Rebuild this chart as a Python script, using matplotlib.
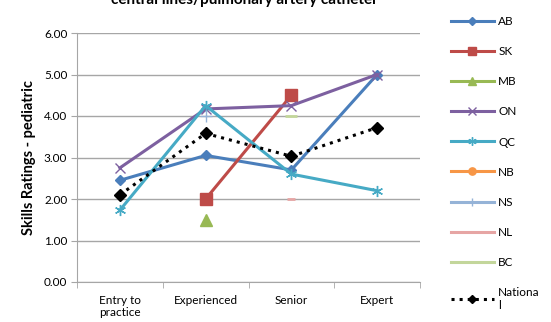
import numpy as np
import matplotlib.pyplot as plt

plt.rcParams['font.family'] = ['Lato', 'DejaVu Sans']

categories = ['Entry to\npractice', 'Experienced', 'Senior', 'Expert']
nan = np.nan
series = {
    'AB': [2.45, 3.05, 2.70, 5.00],
    'SK': [nan, 2.00, 4.50, nan],
    'MB': [nan, 1.50, nan, nan],
    'ON': [2.75, 4.17, 4.25, 5.00],
    'QC': [1.73, 4.25, 2.60, 2.20],
    'NB': [nan, nan, nan, nan],
    'NS': [nan, 4.00, nan, nan],
    'NL': [nan, nan, 2.00, nan],
    'BC': [nan, nan, 4.00, nan],
}
national = [2.10, 3.58, 3.03, 3.72]
yticks = [0, 1, 2, 3, 4, 5, 6]

styles = {
    'AB': dict(color='#4A7EBB', marker='D', ms=5.5),
    'SK': dict(color='#BE4B48', marker='s', ms=8),
    'MB': dict(color='#98B954', marker='^', ms=8),
    'ON': dict(color='#7D60A0', marker='x', ms=7, mew=1),
    'QC': dict(color='#46AAC5', marker=(6, 2, 0), ms=8, mew=1),
    'NB': dict(color='#F79646', marker='o', ms=7),
    'NS': dict(color='#95B3D7', marker='+', ms=8, mew=1),
    'NL': dict(color='#E6A5A4', marker='_', ms=6, mew=2),
    'BC': dict(color='#C3D69B', marker='_', ms=8, mew=2),
}

fig = plt.figure(figsize=(5.51, 3.22), dpi=100)
ax = fig.add_axes([77 / 551, 40 / 322, 343 / 551, 249 / 322])
x = np.arange(len(categories))

handles = []
for name, vals in series.items():
    st = styles[name]
    h, = ax.plot(x, vals, lw=2.2, label=name, **st)
    handles.append(h)
hn, = ax.plot(x, national, color='black', ls=':', lw=2.2, marker='D', ms=6,
              label='Nationa\nl')
handles.append(hn)

ax.set_xlim(-0.5, len(categories) - 0.5)
ax.set_ylim(0, 6)
ax.set_yticks(yticks)
ax.set_yticklabels(['%.2f' % v for v in yticks], fontsize=8.5)
ax.set_xticks(x)
ax.set_xticklabels(categories, fontsize=8.5)
ax.tick_params(axis='x', length=0, pad=9)
ax.set_xticks(np.arange(-0.5, len(categories)), minor=True)
ax.tick_params(axis='x', which='minor', length=4, color='#A6A6A6')
ax.tick_params(axis='y', length=4, color='#A6A6A6', pad=3)
ax.grid(axis='y', color='#A6A6A6', lw=1)
ax.set_axisbelow(True)
for s in ['top', 'right']:
    ax.spines[s].set_visible(False)
for s in ['left', 'bottom']:
    ax.spines[s].set_color('#A6A6A6')

ax.set_ylabel('Skills Ratings - pediatric', fontsize=10.5, fontweight='bold',
              labelpad=6)

fig.text(0.443, 1.0, 'central lines/pulmonary artery catheter', ha='center',
         va='center', fontsize=11, fontweight='bold')

fig.legend(handles=handles, loc='upper left', bbox_to_anchor=(451 / 551, 1 - 16 / 322),
           frameon=False, fontsize=8.5, handlelength=3.6, handletextpad=0.4,
           labelspacing=1.62, borderpad=0, borderaxespad=0, markerscale=0.75)

fig.savefig('out.png', dpi=100)
